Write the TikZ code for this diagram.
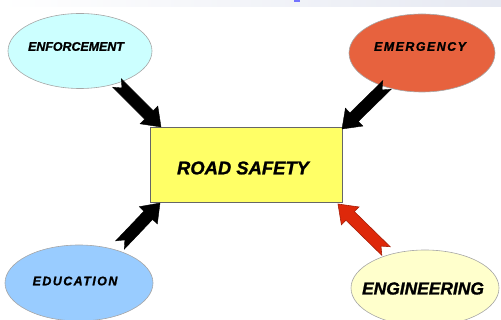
\documentclass[tikz,border=0pt]{standalone}
\usepackage{fontspec}
\setmainfont{Liberation Sans}
\usetikzlibrary{calc,shapes.geometric}
\definecolor{cEnf}{RGB}{204,255,255}
\definecolor{cEme}{RGB}{231,98,62}
\definecolor{cEdu}{RGB}{153,204,255}
\definecolor{cEng}{RGB}{255,255,204}
\definecolor{cRoad}{RGB}{255,255,102}
\definecolor{cRed}{RGB}{222,40,10}
\definecolor{cBand}{RGB}{230,233,242}
\newcommand\fatarrow[3]{%
  \coordinate (fa-h) at ($(#2)!17pt!(#1)$);
  \filldraw[#3]
    ($(#1)!6pt!90:(#2)$) -- ($(fa-h)!6pt!-90:(#1)$) -- ($(fa-h)!12.5pt!-90:(#1)$) --
    (#2) -- ($(fa-h)!12.5pt!90:(#1)$) -- ($(fa-h)!6pt!90:(#1)$) --
    ($(#1)!6pt!-90:(#2)$) -- ($(#1)!7pt!(#2)$) -- cycle;}
\newcommand\lblfont[2]{\fontsize{#1}{#1}\selectfont\bfseries\itshape\addfontfeature{FakeBold=1.2,LetterSpace=#2}}
\tikzset{
  bubble/.style={ellipse, draw=gray!70, line width=0.6pt, inner sep=0pt},
  lbl/.style={text=black, inner sep=0pt},
  blackarrow/.style={fill=black, draw=black, line width=0.4pt, line join=miter},
  redarrow/.style={fill=cRed, draw=cRed!75!black, line width=0.6pt, line join=miter}
}
\begin{document}
\begin{tikzpicture}[x=1pt,y=-1pt]
\useasboundingbox (0,0) rectangle (501,320);
\clip (0,0) rectangle (501,320);
% top band
\shade[left color=white, right color=cBand] (0,0) rectangle (501,7);
\fill[blue!55!white] (294,0) rectangle (300,2);
% bubbles
\node[bubble, fill=cEnf, minimum width=144, minimum height=75] (enf) at (80,51) {};
\node[bubble, fill=cEme, minimum width=146, minimum height=78] (eme) at (422,53) {};
\node[bubble, fill=cEdu, minimum width=148, minimum height=76] (edu) at (79,283) {};
\node[bubble, fill=cEng, minimum width=148, minimum height=76] (eng) at (425,288) {};
\node[lbl, font={\lblfont{12.4}{0}}] (tenf) at (76,46.5) {ENFORCEMENT};
\node[lbl, font={\lblfont{12.4}{12}}] (teme) at (420,46.5) {EMERGENCY};
\node[lbl, font={\lblfont{12.4}{12}}] (tedu) at (75,281) {EDUCATION};
\node[lbl, font={\lblfont{17.4}{0}}] (teng) at (423,288.5) {ENGINEERING};
% center box
\node[draw=gray!80!black, line width=0.6pt, fill=cRoad, minimum width=192, minimum height=75, inner sep=0pt] (rs) at (246,164.5) {};
\node[lbl, font={\lblfont{18.4}{0}}] (trs) at (243,168) {ROAD SAFETY};
% arrow endpoints
\coordinate (a1) at (117,83);  \coordinate (b1) at (161,127);
\coordinate (a2) at (387,85);  \coordinate (b2) at (342,129);
\coordinate (a3) at (120,245); \coordinate (b3) at (160,203);
\coordinate (a4) at (386,251); \coordinate (b4) at (338,204);
\fatarrow{a1}{b1}{blackarrow}
\fatarrow{a2}{b2}{blackarrow}
\fatarrow{a3}{b3}{blackarrow}
\fatarrow{a4}{b4}{redarrow}
\end{tikzpicture}
\end{document}
